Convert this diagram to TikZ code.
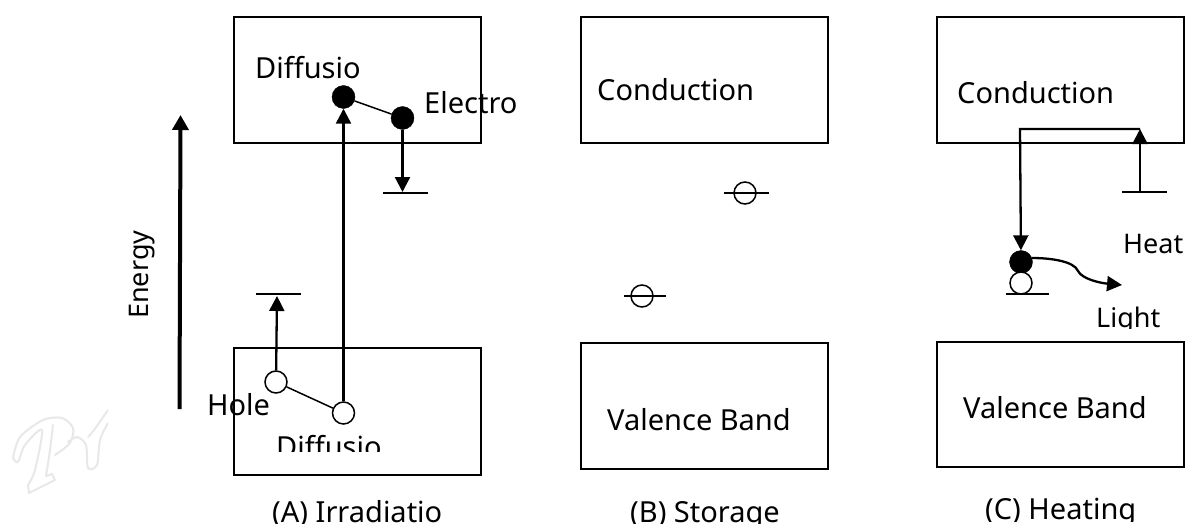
\documentclass[tikz,border=0pt]{standalone}
\usepackage{fontspec}
\setmainfont{Noto Sans}
\usetikzlibrary{arrows.meta}
\tikzset{
 x=1pt,y=-1pt,
 band/.style={draw=black,line width=2pt,fill=none},
 lev/.style={draw=black,line width=2pt},
 arr/.style={draw=black,line width=2.3pt,-{Triangle[length=15pt,width=15pt]}},
 link/.style={draw=black,line width=1.5pt},
 full/.style={circle,fill=black,draw=black,inner sep=0pt,minimum size=23pt},
 empty/.style={circle,fill=white,draw=black,line width=1.5pt,inner sep=0pt,minimum size=22pt},
 trap/.style={circle,fill=none,draw=black,line width=1.5pt,inner sep=0pt,minimum size=22pt},
 lab/.style={font=\fontsize{29}{32}\selectfont,inner sep=0pt,anchor=base west,text=black},
 labsmall/.style={lab,font=\fontsize{27}{30}\selectfont},
 wm/.style={draw=black!9,line width=2pt,line cap=round,line join=round},
}
\begin{document}
\begin{tikzpicture}
\useasboundingbox (0,0) rectangle (1188,527);
\fill[white] (0,0) rectangle (1188,527);
% watermark
\begin{scope}
\clip (0,400) rectangle (108,510);
\draw[wm] plot[smooth] coordinates {(13,458) (20,437) (43,420) (62,418) (73,428) (70,443) (55,455)};
\draw[wm] plot[smooth] coordinates {(13,458) (18,462) (25,445) (42,430) (35,470) (28,485)};
\draw[wm] (28,485) -- (29,493) -- (55,480) -- (52,474) -- (46,476);
\draw[wm] plot[smooth] coordinates {(53,425) (50,450) (46,476)};
\draw[wm] plot[smooth] coordinates {(68,442) (77,437) (86,445) (88,468) (97,465) (100,440) (108,423)};
\draw[wm] plot[smooth] coordinates {(108,410) (94,430) (88,437)};
\end{scope}
% bands
\draw[band] (234,17) rectangle (481,143);
\draw[band] (234,348) rectangle (481,475);
\draw[band] (581,17) rectangle (828,143);
\draw[band] (581,343) rectangle (828,469);
\draw[band] (937,17) rectangle (1184,143);
\draw[band] (937,342) rectangle (1184,467);
% energy axis
\coordinate (ea) at (179.5,409); \coordinate (eb) at (180.5,115);
\draw[line width=4pt,-{Triangle[length=15pt,width=16pt]}] (ea) -- (eb);
\node[rotate=90,labsmall] (energy) at (148,319) {Energy};
% (A)
\node[full] (e1) at (343.5,97) {};
\node[full] (e2) at (402.5,118) {};
\draw[link] (e1) -- (e2);
\coordinate (t1) at (402.5,192);
\draw[lev] (383,192.5) -- (428,192.5);
\draw[arr] (e2) -- (t1);
\coordinate (t2) at (277,296);
\draw[lev] (256,294) -- (301,294);
\node[empty] (h1) at (276,382) {};
\node[empty] (h2) at (343.5,413) {};
\draw[link] (h1) -- (h2);
\draw[arr] (h1) -- (t2);
\draw[arr] (h2) -- (e1);
\node[lab] (d1) at (255,78) {Diffusio};
\node[lab] (el) at (424,113) {Electro};
\node[lab] (ho) at (207,415) {Hole};
\begin{scope}
\clip (250,425) rectangle (400,451);
\node[lab] (d2) at (276,457) {Diffusio};
\end{scope}
\begin{scope}
\clip (250,480) rectangle (560,523);
\node[lab] (ca) at (272,522) {(A) Irradiatio};
\end{scope}
% (B)
\node[lab] (cb) at (597,100) {Conduction};
\node[lab] (vb) at (607,430) {Valence Band};
\node[trap] (tb1) at (745,193) {};
\draw[lev] (724,193) -- (769,193);
\node[trap] (tb2) at (642,296) {};
\draw[lev] (624,295.5) -- (666,295.5);
\begin{scope}
\clip (600,480) rectangle (900,523);
\node[lab] (cc) at (630,522) {(B) Storage};
\end{scope}
% (C)
\node[lab] (cc2) at (957,103) {Conduction};
\node[lab] (vc) at (963,418) {Valence Band};
\coordinate (h0) at (1140,192);
\draw[lev] (1122,192) -- (1167,192);
\coordinate (top) at (1140,129);
\coordinate (corner) at (1020,129);
\node[full] (f) at (1021,262) {};
\node[empty] (g) at (1021,283) {};
\draw[lev] (1006,294) -- (1049,294);
\draw[arr] (h0) -- (top);
\draw[arr] (top) -- (corner) -- (f);
\draw[arr] (f.20) .. controls (1050,258) and (1074,261) .. (1078,271) .. controls (1082,279) and (1100,283) .. (1122,285);
\node[labsmall] (he) at (1123,253) {Heat};
\begin{scope}
\clip (1080,300) rectangle (1180,328);
\node[labsmall] (li) at (1096,327) {Light};
\end{scope}
\begin{scope}
\clip (950,480) rectangle (1180,521);
\node[lab] (cd) at (985,519) {(C) Heating};
\end{scope}
\end{tikzpicture}
\end{document}
